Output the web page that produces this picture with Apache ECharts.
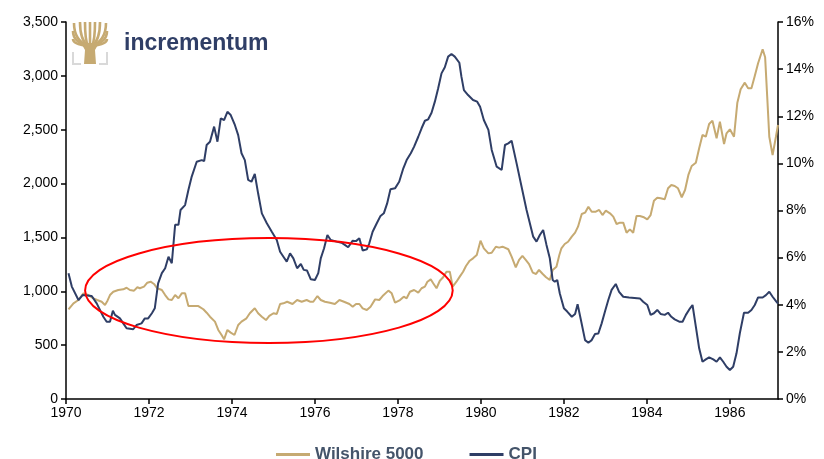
<!DOCTYPE html>
<html lang="en">
<head>
    <meta charset="UTF-8">
    <title>Wilshire 5000 vs CPI</title>
    <script src="https://cdn.jsdelivr.net/npm/echarts@6/dist/echarts.min.js"></script>
    <style>
        html, body { margin:0; padding:0; background:#fff; }
        #chart { width:824px; height:459px; }
    </style>
</head>
<body>
<div id="chart"></div>
<script>
    // Wilshire 5000 (left axis)
    var wilYears = [1970.06,1970.18,1970.30,1970.42,1970.54,1970.66,1970.75,1970.86,1970.94,1971.00,1971.06,1971.14,1971.26,1971.38,1971.46,1971.54,1971.64,1971.72,1971.78,1971.88,1971.96,1972.04,1972.12,1972.20,1972.31,1972.39,1972.47,1972.55,1972.63,1972.71,1972.79,1972.87,1972.95,1973.06,1973.19,1973.31,1973.39,1973.47,1973.59,1973.67,1973.75,1973.81,1973.89,1973.97,1974.06,1974.15,1974.23,1974.35,1974.43,1974.55,1974.63,1974.72,1974.82,1974.90,1975.00,1975.08,1975.16,1975.24,1975.33,1975.46,1975.57,1975.68,1975.80,1975.88,1975.96,1976.06,1976.14,1976.24,1976.36,1976.48,1976.59,1976.70,1976.83,1976.91,1976.99,1977.07,1977.15,1977.25,1977.34,1977.45,1977.55,1977.63,1977.77,1977.85,1977.93,1978.05,1978.14,1978.21,1978.29,1978.39,1978.49,1978.57,1978.65,1978.71,1978.79,1978.85,1978.93,1979.01,1979.09,1979.17,1979.25,1979.32,1979.41,1979.49,1979.57,1979.64,1979.73,1979.81,1979.90,1979.99,1980.07,1980.18,1980.26,1980.36,1980.44,1980.52,1980.66,1980.74,1980.84,1980.92,1981.00,1981.08,1981.16,1981.25,1981.33,1981.40,1981.49,1981.57,1981.66,1981.73,1981.82,1981.89,1981.94,1982.02,1982.10,1982.19,1982.27,1982.34,1982.43,1982.51,1982.59,1982.67,1982.77,1982.85,1982.93,1983.01,1983.11,1983.19,1983.27,1983.35,1983.43,1983.51,1983.59,1983.67,1983.75,1983.83,1983.93,1984.01,1984.09,1984.17,1984.25,1984.33,1984.43,1984.51,1984.59,1984.67,1984.75,1984.84,1984.92,1985.00,1985.08,1985.18,1985.26,1985.34,1985.42,1985.50,1985.58,1985.68,1985.76,1985.86,1985.92,1986.00,1986.10,1986.18,1986.26,1986.36,1986.44,1986.52,1986.60,1986.68,1986.79,1986.85,1986.90,1986.95,1987.03,1987.11,1987.16];
    var wilValues = [833,888,919,981,965,935,919,903,873,913,965,996,1012,1018,1033,1012,1006,1037,1028,1043,1080,1089,1068,1028,1012,965,925,919,965,935,981,981,863,863,863,833,801,764,718,641,594,554,641,616,594,687,718,749,796,842,796,764,733,771,796,789,882,888,903,882,919,903,919,903,903,956,919,903,894,882,919,903,882,857,882,882,842,826,857,925,919,956,1006,981,894,919,950,935,996,1012,987,1028,1043,1089,1111,1074,1028,1098,1130,1182,1182,1043,1089,1136,1182,1235,1284,1306,1337,1470,1399,1352,1358,1414,1405,1414,1390,1321,1223,1291,1328,1291,1253,1173,1161,1198,1161,1130,1105,1198,1228,1337,1399,1439,1460,1507,1544,1600,1718,1730,1785,1739,1739,1755,1708,1748,1724,1693,1625,1637,1637,1544,1575,1544,1699,1699,1687,1668,1708,1841,1869,1863,1854,1956,1987,1978,1956,1873,1940,2080,2163,2194,2327,2451,2435,2553,2584,2420,2575,2367,2467,2504,2435,2751,2875,2937,2885,2885,2999,3117,3247,3172,2807,2435,2265,2435,2544];

    // CPI, % (right axis)
    var cpiYears = [1970.06,1970.14,1970.30,1970.40,1970.62,1970.74,1970.90,1970.98,1971.06,1971.13,1971.18,1971.30,1971.38,1971.46,1971.62,1971.70,1971.82,1971.90,1971.98,1972.07,1972.14,1972.22,1972.31,1972.39,1972.47,1972.55,1972.63,1972.71,1972.76,1972.87,1972.95,1973.03,1973.15,1973.27,1973.33,1973.39,1973.47,1973.57,1973.65,1973.73,1973.81,1973.89,1973.97,1974.07,1974.15,1974.23,1974.31,1974.39,1974.47,1974.55,1974.63,1974.72,1974.84,1974.96,1975.08,1975.16,1975.24,1975.32,1975.40,1975.48,1975.57,1975.66,1975.73,1975.81,1975.90,1976.00,1976.08,1976.14,1976.22,1976.30,1976.38,1976.52,1976.64,1976.72,1976.80,1976.91,1976.99,1977.07,1977.15,1977.25,1977.31,1977.39,1977.49,1977.58,1977.66,1977.74,1977.82,1977.93,1978.03,1978.13,1978.21,1978.31,1978.39,1978.49,1978.57,1978.65,1978.73,1978.81,1978.89,1978.97,1979.05,1979.13,1979.21,1979.29,1979.37,1979.48,1979.53,1979.59,1979.69,1979.81,1979.91,1979.98,1980.07,1980.18,1980.26,1980.38,1980.50,1980.58,1980.66,1980.74,1980.86,1980.98,1981.10,1981.26,1981.34,1981.42,1981.50,1981.58,1981.66,1981.73,1981.78,1981.84,1981.90,1982.00,1982.08,1982.19,1982.27,1982.33,1982.41,1982.51,1982.59,1982.67,1982.75,1982.83,1982.91,1982.99,1983.07,1983.15,1983.25,1983.33,1983.43,1983.57,1983.83,1983.91,1984.01,1984.09,1984.17,1984.25,1984.33,1984.43,1984.51,1984.59,1984.67,1984.78,1984.86,1984.94,1985.04,1985.10,1985.18,1985.26,1985.34,1985.42,1985.50,1985.60,1985.68,1985.76,1985.84,1985.92,1986.00,1986.08,1986.16,1986.24,1986.34,1986.44,1986.52,1986.60,1986.68,1986.79,1986.87,1986.95,1987.03,1987.12,1987.16];
    var cpiValues = [5.34,4.77,4.20,4.41,4.37,4.06,3.49,3.28,3.28,3.75,3.57,3.42,3.21,3.00,2.96,3.14,3.21,3.42,3.42,3.64,3.85,4.91,5.34,5.55,6.04,5.76,7.39,7.39,8.02,8.23,8.87,9.44,10.07,10.14,10.10,10.78,10.92,11.56,10.92,11.91,11.84,12.19,12.05,11.63,11.20,10.43,10.14,9.30,9.22,9.55,8.73,7.88,7.46,7.10,6.75,6.25,6.04,5.83,6.18,5.97,5.55,5.73,5.48,5.45,5.08,5.05,5.34,5.97,6.40,6.96,6.75,6.68,6.63,6.54,6.44,6.72,6.70,6.82,6.30,6.35,6.61,7.10,7.46,7.77,7.88,8.30,8.90,8.94,9.22,9.79,10.14,10.43,10.71,11.13,11.49,11.81,11.87,12.15,12.62,13.19,13.82,14.08,14.53,14.64,14.53,14.27,13.68,13.11,12.90,12.69,12.62,12.40,11.84,11.42,10.57,9.86,9.72,10.78,10.85,10.96,10.00,9.01,8.02,6.89,6.68,6.96,7.17,6.54,5.97,5.05,4.98,5.05,4.49,3.85,3.71,3.49,3.61,4.02,3.35,2.50,2.39,2.50,2.76,2.78,3.21,3.71,4.20,4.63,4.88,4.55,4.34,4.31,4.27,4.13,3.99,3.57,3.64,3.78,3.61,3.57,3.66,3.49,3.38,3.28,3.28,3.57,3.85,3.99,3.07,2.15,1.58,1.68,1.77,1.68,1.58,1.77,1.58,1.37,1.23,1.37,1.94,2.79,3.66,3.66,3.78,3.99,4.31,4.31,4.41,4.55,4.34,4.13,4.05];

    // highlighted period (ellipse in data units)
    var ringCenter = [1974.89, 1007];
    var ringRadius = [4.43, 487];

    var tan = '#C6AA72';
    var navy = '#2F3E66';

    function pairs(xs, ys){
        var out = [];
        for (var i = 0; i < xs.length; i++) out.push([xs[i], ys[i]]);
        return out;
    }

    var myChart = echarts.init(document.getElementById('chart'));

    var axisLine = { show: true, lineStyle: { color: '#000', width: 1.5 } };
    var axisTick = { show: true, length: 5, lineStyle: { color: '#000', width: 1.5 } };
    var option = {
        animation: false,
        grid: { left: 66, right: 46, top: 22, bottom: 60, containLabel: false },
        legend: {
            left: 271, top: 441,
            icon: 'rect', itemWidth: 34, itemHeight: 3, itemGap: 46, itemTextGap: 6,
            textStyle: { fontFamily: 'Liberation Sans', fontWeight: 'bold', fontSize: 17, color: '#44546A' },
            data: ['Wilshire 5000', 'CPI']
        },
        xAxis: {
            type: 'value', min: 1970, max: 1987.16, interval: 2,
            axisLine: axisLine, axisTick: axisTick,
            axisLabel: {
                showMaxLabel: false, margin: 7,
                fontFamily: 'Liberation Sans', fontSize: 14, color: '#000',
                formatter: function(v){ return (v % 1 === 0) ? String(v) : ''; }
            },
            splitLine: { show: false }
        },
        yAxis: [{
            type: 'value', min: 0, max: 3500, interval: 500,
            axisLine: axisLine, axisTick: axisTick,
            axisLabel: {
                margin: 8, fontFamily: 'Liberation Sans', fontSize: 14, color: '#000',
                formatter: function(v){ return v.toLocaleString('en-US'); }
            },
            splitLine: { show: false }
        }, {
            type: 'value', min: 0, max: 16, interval: 2, position: 'right',
            axisLine: axisLine, axisTick: axisTick,
            axisLabel: {
                margin: 8, fontFamily: 'Liberation Sans', fontSize: 14, color: '#000',
                formatter: '{value}%'
            },
            splitLine: { show: false }
        }],
        series: [{
            name: 'Wilshire 5000', type: 'line', yAxisIndex: 0,
            symbol: 'none', smooth: false,
            lineStyle: { color: tan, width: 2 }, itemStyle: { color: tan },
            data: pairs(wilYears, wilValues)
        }, {
            name: 'CPI', type: 'line', yAxisIndex: 1,
            symbol: 'none', smooth: false,
            lineStyle: { color: navy, width: 2 }, itemStyle: { color: navy },
            data: pairs(cpiYears, cpiValues)
        }]
    };
    myChart.setOption(option);

    // ellipse round the 1970s period, and the logo
    var c = myChart.convertToPixel({ gridIndex: 0 }, ringCenter);
    var e = myChart.convertToPixel({ gridIndex: 0 }, [ringCenter[0] + ringRadius[0], ringCenter[1] + ringRadius[1]]);

    var branches = [];
    var tips = [[73,39],[73,31],[74,23],[80,22],[85,22],[90,22],[95,22],[100,22],[106,23],[107,31],[107,39]];
    for (var k = 0; k < tips.length; k++) {
        var t = tips[k];
        var bx = t[0] < 90 ? 88 : (t[0] > 90 ? 92 : 90);
        branches.push({
            type: 'bezierCurve',
            shape: { x1: bx, y1: 46, cpx1: t[0], cpy1: 46 - (46 - t[1]) * 0.25, x2: t[0], y2: t[1] },
            style: { stroke: tan, lineWidth: 2.6, fill: null }
        });
    }
    myChart.setOption({
        graphic: [{
            type: 'ellipse', z: 100,
            shape: { cx: c[0], cy: c[1], rx: e[0] - c[0], ry: c[1] - e[1] },
            style: { stroke: '#FF0000', lineWidth: 2, fill: null }
        }, {
            type: 'group', z: 100,
            children: branches.concat([
                { type: 'polygon', shape: { points: [[84,64],[96,64],[95,50],[99,43],[81,43],[85,50]] }, style: { fill: tan } },
                { type: 'polyline', shape: { points: [[73,52],[73,64],[81,64]] }, style: { stroke: '#D9D9D9', lineWidth: 2, fill: null } },
                { type: 'polyline', shape: { points: [[107,52],[107,64],[99,64]] }, style: { stroke: '#D9D9D9', lineWidth: 2, fill: null } }
            ])
        }, {
            type: 'text', left: 124, top: 32, z: 100,
            style: { text: 'incrementum', fontFamily: 'Liberation Sans', fontWeight: 'bold', fontSize: 23, fill: navy }
        }]
    });
</script>
</body>
</html>
